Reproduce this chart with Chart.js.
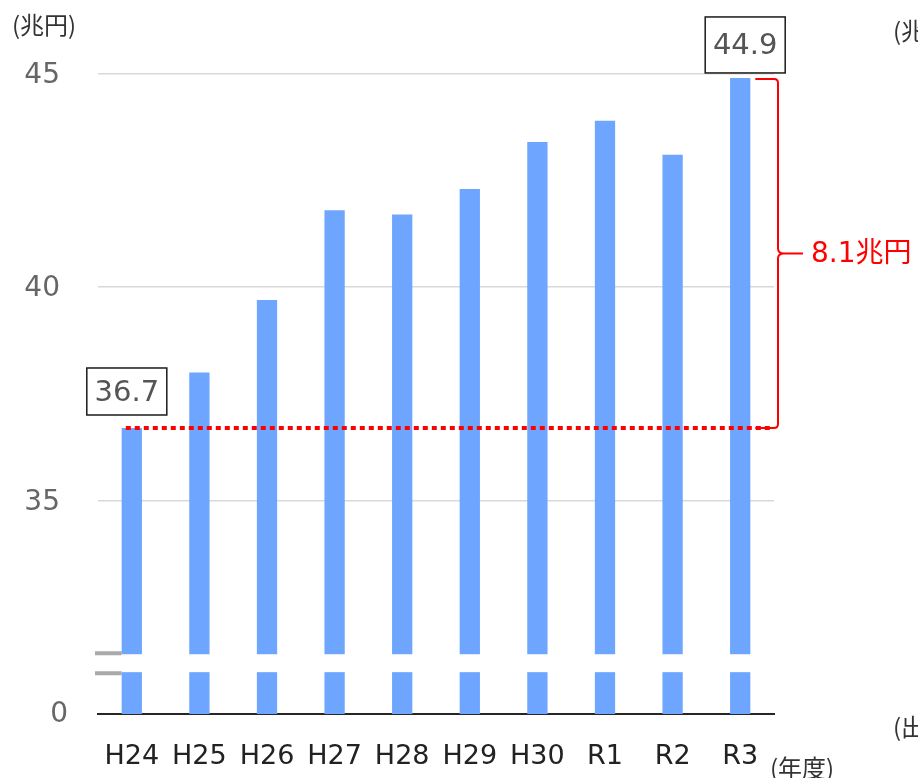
<!DOCTYPE html>
<html>
<head>
<meta charset="utf-8">
<script src="https://cdn.jsdelivr.net/npm/chart.js@4/dist/chart.umd.min.js"></script>
<style>
  html, body { margin: 0; padding: 0; background: #fff; }
  #wrap { width: 918px; height: 778px; position: relative; }
</style>
</head>
<body>
<div id="wrap"><canvas id="c" width="918" height="778"></canvas></div>
<script>
// Fiscal years and amounts (trillion yen)
const categories = ['H24', 'H25', 'H26', 'H27', 'H28', 'H29', 'H30', 'R1', 'R2', 'R3'];
const values = [36.7, 38.0, 39.7, 41.8, 41.7, 42.3, 43.4, 43.9, 43.1, 44.9];

// Broken value axis: the bottom tick stands for zero
const yTickValues = [30, 35, 40, 45];
const yTickLabels = ['0', '35', '40', '45'];
const breakLow = 30.98;
const breakHigh = 31.40;

const unitLabel = '(兆円)';
const yearLabel = '(年度)';
const increaseLabel = '8.1兆円';

const LATIN = '"DejaVu Sans", "Noto Sans CJK JP", sans-serif';
const CJK = '"Noto Sans CJK JP", "DejaVu Sans", sans-serif';

const decor = {
  id: 'decor',
  afterDatasetsDraw(chart) {
    const { ctx, chartArea: a, scales: { x, y } } = chart;
    const bars = chart.getDatasetMeta(0).data;
    const first = bars[0], last = bars[bars.length - 1];
    ctx.save();

    // gap across the bars where the axis is broken
    const gTop = y.getPixelForValue(breakHigh);
    const gBot = y.getPixelForValue(breakLow);
    ctx.fillStyle = '#ffffff';
    ctx.fillRect(a.left, gTop, a.right - a.left, gBot - gTop);

    // break marks beside the axis
    ctx.strokeStyle = '#a9a9a9';
    ctx.lineWidth = 4;
    const bx0 = a.left - 3, bx1 = first.x - first.width / 2;
    ctx.beginPath();
    ctx.moveTo(bx0, gTop - 1); ctx.lineTo(bx1, gTop - 1);
    ctx.moveTo(bx0, gBot + 1); ctx.lineTo(bx1, gBot + 1);
    ctx.stroke();

    // y tick labels
    ctx.fillStyle = '#666666';
    ctx.font = '28px ' + LATIN;
    ctx.textBaseline = 'middle';
    ctx.textAlign = 'right';
    yTickValues.forEach((v, i) => {
      const px = y.getPixelForValue(v);
      ctx.fillText(yTickLabels[i], v === 30 ? 68 : 60, px + (v === 30 ? 1 : 2));
    });

    // dotted reference line at the first year's level
    const yFirst = y.getPixelForValue(values[0]);
    ctx.strokeStyle = '#ff0000';
    ctx.lineWidth = 4;
    ctx.setLineDash([5, 4]);
    ctx.beginPath();
    ctx.moveTo(first.x - 6, yFirst);
    ctx.lineTo(a.right - 1, yFirst);
    ctx.stroke();
    ctx.setLineDash([]);

    // bracket spanning first to last value
    const yLast = y.getPixelForValue(values[values.length - 1]) + 1;
    const xb = a.right + 4;
    const x0 = last.x + last.width / 2 + 5;
    const ym = (yLast + yFirst) / 2;
    ctx.lineWidth = 2;
    ctx.beginPath();
    ctx.moveTo(x0, yLast);
    ctx.lineTo(xb - 4, yLast);
    ctx.quadraticCurveTo(xb, yLast, xb, yLast + 4);
    ctx.lineTo(xb, ym - 5);
    ctx.quadraticCurveTo(xb, ym, xb + 6, ym);
    ctx.lineTo(xb + 25, ym);
    ctx.moveTo(xb + 6, ym);
    ctx.quadraticCurveTo(xb, ym, xb, ym + 5);
    ctx.lineTo(xb, yFirst - 4);
    ctx.quadraticCurveTo(xb, yFirst, xb - 4, yFirst);
    ctx.lineTo(x0, yFirst);
    ctx.stroke();

    ctx.fillStyle = '#ff0000';
    ctx.textAlign = 'left';
    ctx.font = '28px ' + LATIN;
    ctx.fillText(increaseLabel, xb + 33, ym + 1);

    // boxed value labels
    function box(cx, bottom, w, h, text) {
      ctx.fillStyle = '#ffffff';
      ctx.fillRect(cx - w / 2, bottom - h, w, h);
      ctx.strokeStyle = '#1a1a1a';
      ctx.lineWidth = 1.5;
      ctx.strokeRect(cx - w / 2, bottom - h, w, h);
      ctx.fillStyle = '#555555';
      ctx.font = '29px ' + LATIN;
      ctx.textAlign = 'center';
      ctx.textBaseline = 'middle';
      ctx.fillText(text, cx, bottom - h / 2 + 2);
    }
    box(first.x - 5, yFirst - 13, 80, 47, values[0].toFixed(1));
    box(last.x + 5, yLast - 6, 80, 56, values[values.length - 1].toFixed(1));

    // unit captions
    ctx.fillStyle = '#333333';
    ctx.font = '24px ' + CJK;
    ctx.textAlign = 'left';
    ctx.textBaseline = 'middle';
    ctx.fillText(unitLabel, 12, 25);
    ctx.fillText(yearLabel, 770, 768);
    ctx.fillText(unitLabel, 893, 31);
    ctx.fillText('(出典)', 893, 727);

    ctx.restore();
  }
};

new Chart(document.getElementById('c'), {
  type: 'bar',
  data: {
    labels: categories,
    datasets: [{
      data: values,
      backgroundColor: '#6ea5fe',
      borderWidth: 0,
      barPercentage: 0.3,
      categoryPercentage: 1.0
    }]
  },
  options: {
    responsive: false,
    animation: false,
    layout: { padding: { left: 0, right: 144, top: 31, bottom: 0 } },
    plugins: { legend: { display: false }, tooltip: { enabled: false } },
    scales: {
      x: {
        grid: { display: false, drawTicks: false },
        border: { display: true, color: '#262626', width: 2 },
        ticks: {
          color: '#222222',
          font: { family: LATIN, size: 27 },
          padding: 27,
          maxRotation: 0,
          autoSkip: false
        },
        afterFit(scale) { scale.height = 64; }
      },
      y: {
        min: 30,
        max: 46,
        afterBuildTicks(scale) { scale.ticks = yTickValues.map(v => ({ value: v })); },
        afterFit(scale) { scale.width = 98; },
        grid: {
          drawTicks: false,
          color: c => (c.tick && c.tick.value === 30 ? 'rgba(0,0,0,0)' : '#d9d9d9'),
          lineWidth: 1.5
        },
        border: { display: false },
        ticks: { display: false }
      }
    }
  },
  plugins: [decor]
});
</script>
</body>
</html>
